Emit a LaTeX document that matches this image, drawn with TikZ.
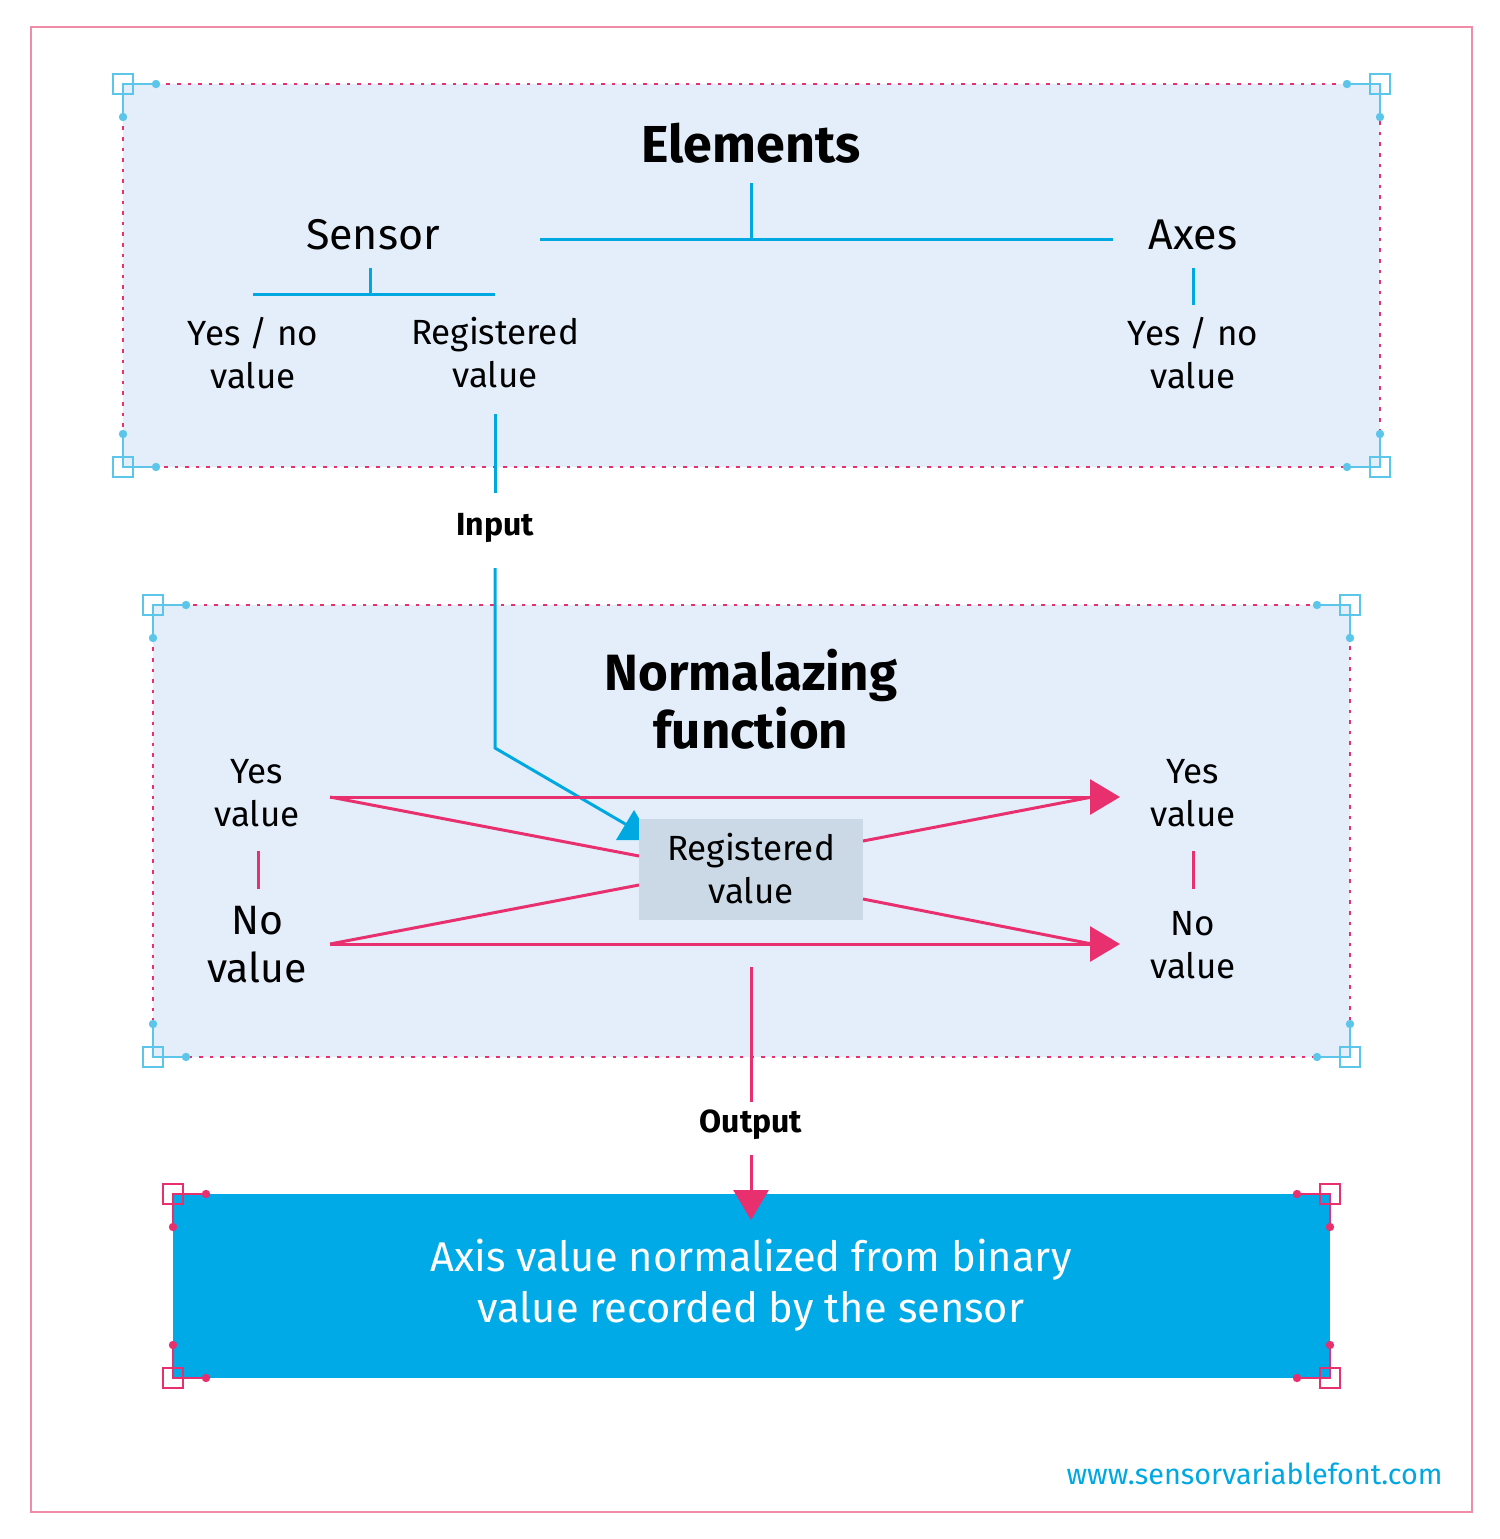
\documentclass[tikz,border=0pt]{standalone}
\usepackage{fontspec}
\setmainfont{Fira Sans}
\usetikzlibrary{arrows.meta}
\definecolor{frame}{HTML}{F08CA8}
\definecolor{boxfill}{HTML}{E3EEFA}
\definecolor{pinkc}{HTML}{E8306F}
\definecolor{bluec}{HTML}{00A8E1}
\definecolor{decoblue}{HTML}{5BC5EA}
\definecolor{grayfill}{HTML}{CBD9E7}
\definecolor{bigblue}{HTML}{00AAE7}
\newcommand\cdeco[5]{%
  \draw[#5, line width=1.1pt] ({#1-10},{#2-10}) rectangle ({#1+10},{#2+10});
  \draw[#5, line width=1.1pt] ({#1+(#3)},#2) -- (#1,#2) -- (#1,{#2+(#4)});
  \fill[#5] ({#1+(#3)},#2) circle[radius=4.2] (#1,{#2+(#4)}) circle[radius=4.2];
}
\tikzset{
  bluebox/.style={fill=boxfill, draw=pinkc, line width=0.9pt, dash pattern=on 1.8pt off 3.5pt},
  blueline/.style={draw=bluec, line width=1.5pt},
  pinkline/.style={draw=pinkc, line width=1.5pt},
  pinkarrow/.style={pinkline, -{Triangle[length=15pt,width=17.5pt]}},
  txt/.style={inner sep=0pt, align=center, font=\fontsize{17.5}{21.5}\selectfont},
  head/.style={inner sep=0pt, align=center, font=\fontsize{26}{29}\selectfont\bfseries},
  small/.style={inner sep=0pt, align=center, font=\fontsize{16}{18}\selectfont\bfseries},
}
\begin{document}
\begin{tikzpicture}[x=0.5pt,y=-0.5pt]
\useasboundingbox (0,0) rectangle (1500,1539);
\fill[white] (0,0) rectangle (1500,1539);
% outer frame
\draw[frame, line width=1.1pt] (31,27) rectangle (1472,1512);

% box 1
\path[bluebox] (123,84) rectangle (1380,467);
\cdeco{123}{84}{33}{33}{decoblue}
\cdeco{1380}{84}{-33}{33}{decoblue}
\cdeco{123}{467}{33}{-33}{decoblue}
\cdeco{1380}{467}{-33}{-33}{decoblue}

% box 2
\path[bluebox] (153,605) rectangle (1350,1057);
\cdeco{153}{605}{33}{33}{decoblue}
\cdeco{1350}{605}{-33}{33}{decoblue}
\cdeco{153}{1057}{33}{-33}{decoblue}
\cdeco{1350}{1057}{-33}{-33}{decoblue}

% box 3
\fill[bigblue] (173,1194) rectangle (1330,1378);
\cdeco{173}{1194}{33}{33}{pinkc}
\cdeco{1330}{1194}{-33}{33}{pinkc}
\cdeco{173}{1378}{33}{-33}{pinkc}
\cdeco{1330}{1378}{-33}{-33}{pinkc}

% ---- Elements tree
\node[head] (elements) at (751,143) {Elements};
\node[txt, font=\fontsize{21.5}{26}\selectfont] (sensor) at (373,235) {Sensor};
\node[txt, font=\fontsize{21.5}{26}\selectfont] (axes) at (1193,235) {Axes};
\coordinate (eTop) at (751,183);
\coordinate (eMid) at (751,239);
\coordinate (eL) at (540,239);
\coordinate (eR) at (1113,239);
\draw[blueline] (eTop) -- (eMid);
\draw[blueline] (eL) -- (eR);

\node[txt] (syn) at (253,353) {Yes / no\\value};
\node[txt] (sreg) at (495,353) {Registered\\value};
\node[txt] (ayn) at (1193,353) {Yes / no\\value};
\coordinate (sTop) at (370,268);
\coordinate (sMid) at (370,294);
\coordinate (sL) at (253,294);
\coordinate (sR) at (495,294);
\draw[blueline] (sTop) -- (sMid);
\draw[blueline] (sL) -- (sR);
\coordinate (aTop) at (1193,268);
\coordinate (aBot) at (1193,305);
\draw[blueline] (aTop) -- (aBot);

% input
\node[small] (input) at (495,528) {Input};
\coordinate (in1) at (495,414);
\coordinate (in2) at (495,493);
\coordinate (in3) at (495,568);
\coordinate (in4) at (495,748);
\coordinate (in5) at (627,825);
\draw[blueline] (in1) -- (in2);
\draw[blueline] (in3) -- (in4) -- (in5);
\fill[bluec] (634,810) -- (652,840) -- (616,840) -- cycle;

% ---- Normalizing function
\node[head, font=\fontsize{25.5}{29}\selectfont\bfseries] (norm) at (751,699) {Normalazing\\function};
\node[txt] (lyes) at (257,793) {Yes\\value};
\node[txt, font=\fontsize{20.5}{24}\selectfont] (lno) at (257,945) {No\\value};
\node[txt] (ryes) at (1193,793) {Yes\\value};
\node[txt] (rno) at (1193,945) {No\\value};
\coordinate (lv1) at (258,851);
\coordinate (lv2) at (258,889);
\coordinate (rv1) at (1193,851);
\coordinate (rv2) at (1193,889);
\draw[pinkline] (lv1) -- (lv2);
\draw[pinkline] (rv1) -- (rv2);

\node[fill=grayfill, minimum width=112pt, minimum height=50.5pt, inner sep=0pt] (regbox) at (751,869.5) {};
\node[txt] (regtxt) at (751,868.5) {Registered\\value};

\coordinate (ys) at (330,797);
\coordinate (ns) at (330,944);
\coordinate (ye) at (1120,797);
\coordinate (ne) at (1120,944);
\coordinate (yb) at (1092,797);
\coordinate (nb) at (1092,944);
\draw[pinkarrow] (ys) -- (ye);
\draw[pinkarrow] (ns) -- (ne);
\draw[pinkline] (ys) -- (639,856);
\draw[pinkline] (ns) -- (639,885);
\draw[pinkline] (863,841) -- (yb);
\draw[pinkline] (863,899) -- (nb);

% output
\node[small] (output) at (751,1125) {Output};
\coordinate (o1) at (751,967);
\coordinate (o2) at (751,1102);
\coordinate (o3) at (751,1155);
\coordinate (o4) at (751,1220);
\draw[pinkline] (o1) -- (o2);
\draw[pinkarrow] (o3) -- (o4);

% bottom text
\node[txt, text=white, font=\fontsize{20.8}{25.5}\selectfont] (result) at (751,1285) {Axis value normalized from binary\\value recorded by the sensor};

% url
\node[inner sep=0pt, anchor=east, text=bluec, font=\fontsize{14.4}{17}\selectfont] (url) at (1443,1473) {www.sensorvariablefont.com};
\end{tikzpicture}
\end{document}
